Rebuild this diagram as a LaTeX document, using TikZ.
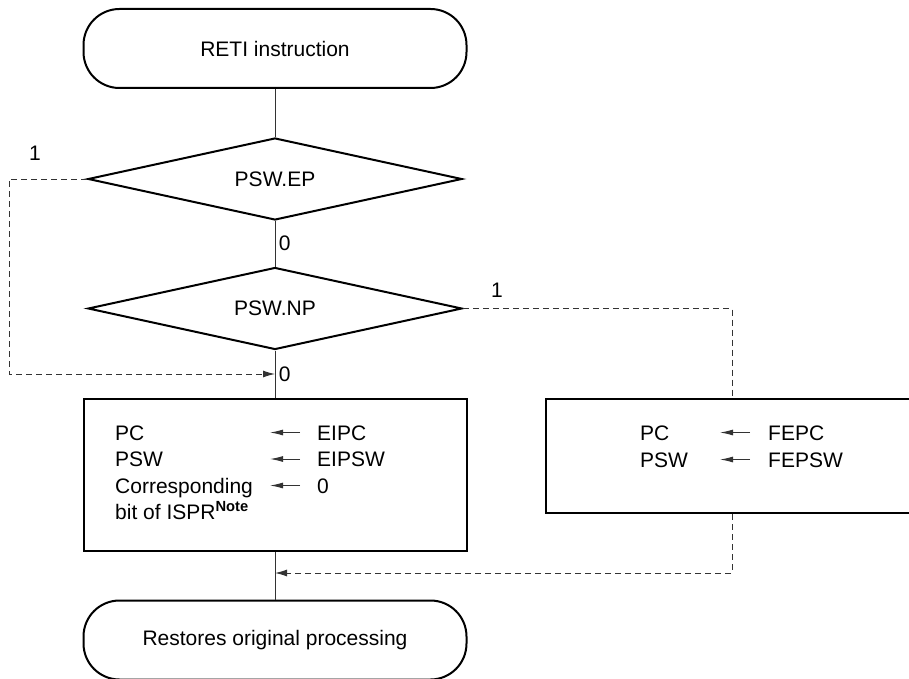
\documentclass[tikz,border=0pt]{standalone}
\usepackage{fontspec}
\setmainfont{Liberation Sans}
\usetikzlibrary{positioning,arrows.meta,shapes.geometric}

\begin{document}
\begin{tikzpicture}[
  x=1pt, y=-1pt,
  every node/.style={font=\fontsize{21}{26}\selectfont, text=black},
  term/.style={rectangle, rounded corners=36pt, draw, line width=2pt, minimum width=383pt, minimum height=79pt},
  decision/.style={diamond, draw, line width=2pt, aspect=4.5, minimum width=374pt, minimum height=82pt, inner sep=0pt},
  proc/.style={rectangle, draw, line width=2pt},
  flow/.style={line width=1pt, black!80},
  dashline/.style={line width=1pt, black!80, dash pattern=on 6pt off 4pt},
  back/.style={dashline, -{Latex[length=12pt,width=7pt]}},
  gets/.style={line width=1pt, black!80, -{Latex[length=13pt,width=6pt]}},
  txt/.style={anchor=base west, inner sep=0pt}
]
\useasboundingbox (0,0) rectangle (909,679);

% Inicio y fin
\node[term] (start) at (275,48.5) {RETI instruction};
\node[term] (stop) at (275,640) {Restores original processing};

% Decisiones
\node[decision] (ep) at (275,179) {PSW.EP};
\node[decision] (np) at (275,308.5) {PSW.NP};

% Cajas
\node[proc, minimum width=383pt, minimum height=152pt] (lbox) at (275,475) {};
\node[proc, minimum width=372pt, minimum height=114pt] (rbox) at (732,456) {};

\foreach \y/\dst/\src/\n in {440/PC/EIPC/1, 466.5/PSW/EIPSW/2, 493/Corresponding/0/3} {
  \node[txt] (ld\n) at (115,\y) {\dst};
  \node[txt] (ls\n) at (317,\y) {\src};
  \draw[gets] ([xshift=-17pt,yshift=7.5pt]ls\n.base west) -- ++(-30,0);
}
\node[txt] (ld4) at (115,519) {bit of ISPR\textsuperscript{\textbf{Note}}};

\foreach \y/\dst/\src/\n in {440/PC/FEPC/1, 467/PSW/FEPSW/2} {
  \node[txt] (rd\n) at (640,\y) {\dst};
  \node[txt] (rs\n) at (768,\y) {\src};
  \draw[gets] ([xshift=-18pt,yshift=7.5pt]rs\n.base west) -- ++(-30,0);
}

% Flujo principal
\coordinate (j1) at (275,374);
\coordinate (j2) at (275,573);
\draw[flow] (start) -- (ep);
\draw[flow] (ep) -- node[right] (z1) {0} (np);
\draw[flow] (np) -- node[right] (z2) {0} (lbox);
\draw[flow] (lbox) -- (stop);

% Ramas
\draw[back] (ep.west) -- ++(-78,0) |- (j1);
\node (one1) at (35,153) {1};
\draw[dashline] (np.east) -| (rbox.north);
\node (one2) at (497,290) {1};
\draw[back] (rbox.south) |- (j2);
\end{tikzpicture}
\end{document}
